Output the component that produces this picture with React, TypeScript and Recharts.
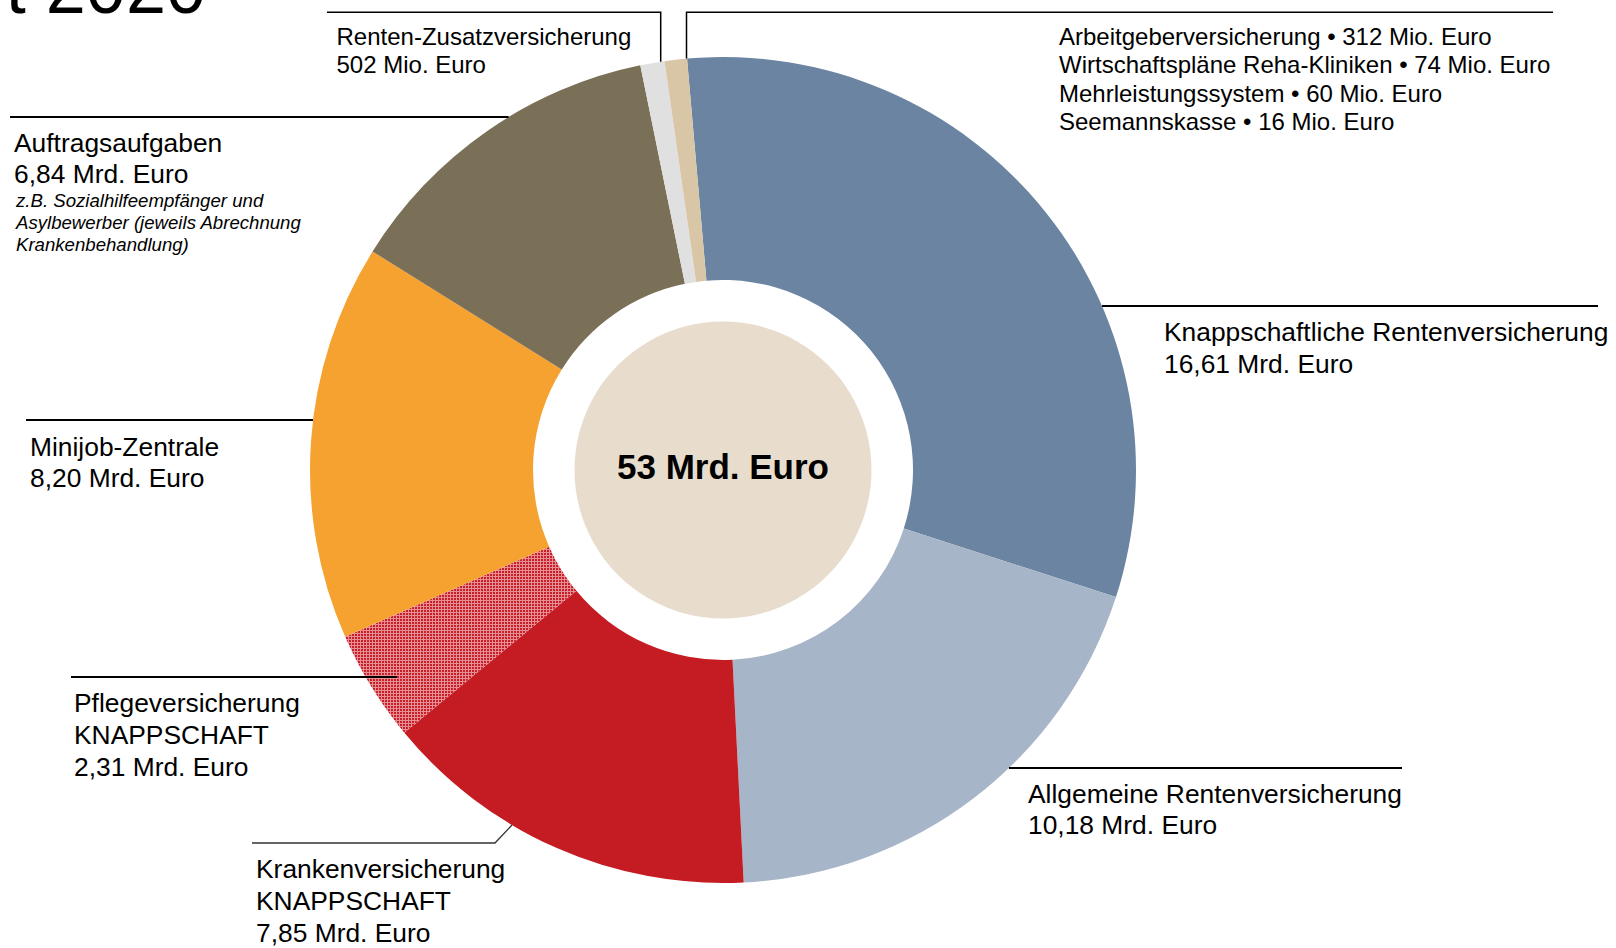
import React from 'react';
import { PieChart, Pie, Cell } from 'recharts';

// ---------- data ----------
const categories = [
  'Knappschaftliche Rentenversicherung',
  'Allgemeine Rentenversicherung',
  'Krankenversicherung',
  'Pflegeversicherung',
  'Minijob-Zentrale',
  'Auftragsaufgaben',
  'Renten-Zusatzversicherung',
  'Weitere',
];
const subTitles = ['', '', 'KNAPPSCHAFT', 'KNAPPSCHAFT', '', '', '', ''];
const otherNames = ['Arbeitgeberversicherung', 'Wirtschaftspläne Reha-Kliniken', 'Mehrleistungssystem', 'Seemannskasse'];
const otherValuesMio = [312, 74, 60, 16];
const valuesMrd = [16.61, 10.18, 7.85, 2.31, 8.2, 6.84, 0.502, otherValuesMio.reduce((a, b) => a + b, 0) / 1000];
const auftragsNotes = ['z.B. Sozialhilfeempfänger und', 'Asylbewerber (jeweils Abrechnung', 'Krankenbehandlung)'];
const titleFragment = 't 2020';

// ---------- styles ----------
const colors = ['#6a84a2', '#a7b5c8', '#c51b23', 'url(#hatchRed)', '#f5a231', '#7a6f57', '#e0e0e0', '#d8c6a6'];
const centerColor = '#e8ddcc';
const FONT = '"Liberation Sans", Arial, Helvetica, sans-serif';

const CX = 723;
const CY = 470;
const R_OUT = 413;
const R_IN = 190;
const R_CENTER = 148.5;

const fmtMrd = (v: number) => v.toFixed(2).replace('.', ',') + ' Mrd. Euro';
const fmtMio = (v: number) => Math.round(v * 1000) + ' Mio. Euro';

const data = categories.map((name, i) => ({ name, value: valuesMrd[i] }));
const total = valuesMrd.reduce((a, b) => a + b, 0);
const centerData = [{ name: 'Gesamt', value: total }];

function labelLines(i: number): string[] {
  if (i === 7) return otherNames.map((n, k) => `${n} • ${otherValuesMio[k]} Mio. Euro`);
  const v = valuesMrd[i];
  const lines = [categories[i]];
  if (subTitles[i]) lines.push(subTitles[i]);
  lines.push(v < 1 ? fmtMio(v) : fmtMrd(v));
  return lines;
}

// label layout, relative to pie centre
type Layout = {
  kind: 'edge' | 'fixed' | 'elbow' | 'drop';
  y: number;
  x1?: number;
  x2: number;
  ex?: number;
  vx?: number;
  tx: number;
  ty: number;
  lh: number;
  big: boolean;
  lw: number;
  stroke: string;
};
const layouts: Layout[] = [
  { kind: 'edge', y: -164, x2: 875, tx: 441, ty: -129, lh: 32, big: true, lw: 2, stroke: '#000' },
  { kind: 'edge', y: 298, x2: 679, tx: 305, ty: 332.5, lh: 31.5, big: true, lw: 2, stroke: '#000' },
  { kind: 'elbow', y: 373, x1: -471, x2: -228, ex: -211, tx: -467, ty: 408, lh: 32, big: true, lw: 1.3, stroke: '#333' },
  { kind: 'fixed', y: 207, x1: -652, x2: -326, tx: -649, ty: 242, lh: 32, big: true, lw: 2, stroke: '#000' },
  { kind: 'edge', y: -50, x2: -697, tx: -693, ty: -14.5, lh: 31.5, big: true, lw: 2, stroke: '#000' },
  { kind: 'edge', y: -353, x2: -713, tx: -709, ty: -318.3, lh: 31.6, big: true, lw: 2, stroke: '#000' },
  { kind: 'drop', y: -457.7, x1: -396, x2: -62.3, vx: -62.3, tx: -386.5, ty: -425, lh: 28.3, big: false, lw: 1.5, stroke: '#000' },
  { kind: 'drop', y: -457.7, x1: 830, x2: -36.5, vx: -36.5, tx: 336, ty: -425, lh: 28.3, big: false, lw: 1.5, stroke: '#000' },
];

const renderLabel = (props: any) => {
  const i: number = props.index;
  const cx: number = props.cx;
  const cy: number = props.cy;
  const R: number = props.outerRadius;
  const L = layouts[i];
  if (!L) return null;
  const lines = labelLines(i);
  const edgeX = (y: number, side: number) => side * Math.sqrt(Math.max(R * R - y * y, 0));
  const edgeY = (x: number) => -Math.sqrt(Math.max(R * R - x * x, 0));
  let path = '';
  if (L.kind === 'edge') {
    const side = Math.sign(L.x2);
    path = `M${cx + edgeX(L.y, side)},${cy + L.y}L${cx + L.x2},${cy + L.y}`;
  } else if (L.kind === 'fixed') {
    path = `M${cx + (L.x1 as number)},${cy + L.y}L${cx + L.x2},${cy + L.y}`;
  } else if (L.kind === 'elbow') {
    const ex = L.ex as number;
    const ey = -edgeY(ex);
    path = `M${cx + (L.x1 as number)},${cy + L.y}L${cx + L.x2},${cy + L.y}L${cx + ex},${cy + ey}`;
  } else {
    const vx = L.vx as number;
    path = `M${cx + (L.x1 as number)},${cy + L.y}L${cx + vx},${cy + L.y}L${cx + vx},${cy + edgeY(vx)}`;
  }
  const fs = L.big ? 25.5 : 24;
  const sx = L.big ? 1.035 : 1;
  return (
    <g key={`lbl-${i}`}>
      <path d={path} stroke={L.stroke} strokeWidth={L.lw} fill="none" />
      {lines.map((t, k) => (
        <text
          key={k}
          transform={`translate(${cx + L.tx},${cy + L.ty + k * L.lh}) scale(${sx},1)`}
          x={0}
          y={0}
          fontSize={fs}
          fontFamily={FONT}
          fill="#000"
        >
          {t}
        </text>
      ))}
      {i === 5 &&
        auftragsNotes.map((t, k) => (
          <text
            key={`n${k}`}
            transform={`translate(${cx + L.tx + 2},${cy + L.ty + 55.6 + k * 22}) scale(1.035,1)`}
            x={0}
            y={0}
            fontSize={18}
            fontStyle="italic"
            fontFamily={FONT}
            fill="#000"
          >
            {t}
          </text>
        ))}
    </g>
  );
};

const renderCenter = (props: any) => (
  <text
    key="center"
    x={props.cx}
    y={props.cy + 8.5}
    textAnchor="middle"
    fontSize={35}
    fontWeight="bold"
    fontFamily={FONT}
    fill="#000"
  >
    {Math.round(total) + ' Mrd. Euro'}
  </text>
);

export default function App() {
  return (
    <div style={{ position: 'absolute', left: 0, top: 0, width: 1616, height: 948, background: '#fff', overflow: 'hidden' }}>
      <svg width={300} height={40} style={{ position: 'absolute', left: 0, top: 0 }}>
        <text x={206} y={12.5} textAnchor="end" fontSize={72} fontFamily={FONT} fill="#000">
          {titleFragment}
        </text>
      </svg>
      <div style={{ position: 'absolute', left: 0, top: 0 }}>
        <PieChart width={1616} height={948} margin={{ top: 0, right: 0, bottom: 0, left: 0 }}>
          <defs>
            <pattern id="hatchRed" x={0} y={0} width={3} height={3} patternUnits="userSpaceOnUse">
              <rect x={0} y={0} width={3} height={3} fill="#c81e27" />
              <rect x={0} y={0} width={3} height={1} fill="#f7cdd0" fillOpacity={0.65} />
              <rect x={0} y={1} width={1} height={2} fill="#f7cdd0" fillOpacity={0.65} />
            </pattern>
          </defs>
          <Pie
            data={data}
            dataKey="value"
            nameKey="name"
            cx={CX}
            cy={CY}
            innerRadius={R_IN}
            outerRadius={R_OUT}
            startAngle={95}
            endAngle={-265}
            paddingAngle={0}
            stroke="none"
            isAnimationActive={false}
            label={renderLabel}
            labelLine={false}
          >
            {data.map((d, i) => (
              <Cell key={d.name} fill={colors[i]} stroke="none" />
            ))}
          </Pie>
          <Pie
            data={centerData}
            dataKey="value"
            cx={CX}
            cy={CY}
            innerRadius={0}
            outerRadius={R_CENTER}
            startAngle={90}
            endAngle={-270}
            stroke="none"
            fill={centerColor}
            isAnimationActive={false}
            label={renderCenter}
            labelLine={false}
          />
        </PieChart>
      </div>
    </div>
  );
}
